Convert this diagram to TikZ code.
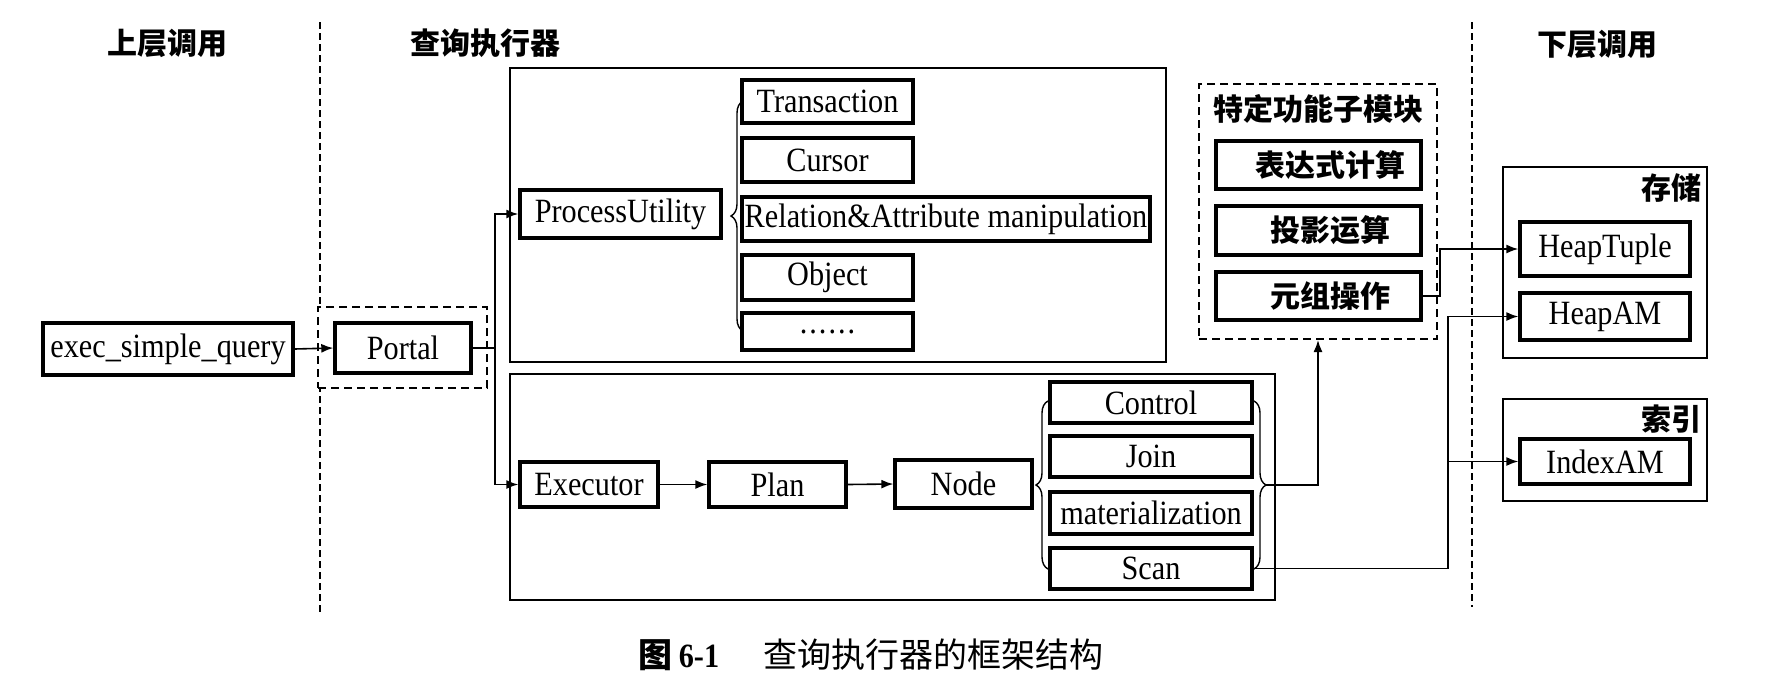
\documentclass[tikz,border=0pt]{standalone}
\usepackage{fontspec}
\setmainfont{Liberation Serif}[FakeStretch=0.89]
\newfontfamily\cjk{Noto Sans CJK SC}
\usetikzlibrary{arrows.meta,decorations.pathreplacing,calc}
\newcommand{\mybox}[7][box]{\node[#1, minimum width={(#5-#3)*0.5pt}, minimum height={(#6-#4)*0.5pt}] (#2) at ({(#3+#5)/2},{(#4+#6)/2}) {#7};}
\begin{document}
\begin{tikzpicture}[x=0.5pt,y=-0.5pt,
  box/.style={draw, line width=1.7pt, inner sep=0pt, font=\fontsize{17}{17}\selectfont},
  cnbox/.style={draw, line width=1.7pt, inner sep=0pt, font=\fontsize{15}{15}\selectfont\cjk\bfseries},
  container/.style={draw, line width=0.9pt, inner sep=0pt},
  dbox/.style={draw, line width=1pt, dash pattern=on 4pt off 2.5pt, inner sep=0pt},
  sepline/.style={line width=0.6pt, dash pattern=on 3.5pt off 2pt},
  conn/.style={line width=0.8pt},
  arr/.style={conn, -{Latex[length=6pt,width=4.5pt]}},
  brc/.style={line width=0.7pt, decorate, decoration={brace, amplitude=6pt}},
  head/.style={font=\fontsize{15}{15}\selectfont\cjk\bfseries, inner sep=0pt},
]
\useasboundingbox (0,0) rectangle (1777,681);

% headers
\node[head] (h1) at (167,43) {上层调用};
\node[head] (h2) at (485,43) {查询执行器};
\node[head] (h3) at (1597,44) {下层调用};

% separators
\coordinate (s1t) at (320,22); \coordinate (s1b) at (320,612);
\coordinate (s2t) at (1472,22); \coordinate (s2b) at (1472,607);
\draw[sepline] (s1t) -- (s1b);
\draw[sepline] (s2t) -- (s2b);

% containers
\mybox[container]{topc}{510}{68}{1166}{362}{}
\mybox[container]{botc}{510}{374}{1275}{600}{}
\mybox[dbox, fill=white]{portalgrp}{318}{307}{487}{388}{}
\mybox[dbox]{func}{1199}{84}{1437}{339}{}
\mybox[container]{store}{1503}{167}{1707}{358}{}
\mybox[container]{index}{1503}{399}{1707}{501}{}

% left
\mybox{exec}{43}{323}{293}{375}{exec\_simple\_query}
\mybox{portal}{335}{323}{471}{373}{Portal}

% ProcessUtility part
\mybox{pu}{520}{190}{721}{238}{ProcessUtility}
\mybox{trans}{742}{80}{913}{123}{Transaction}
\mybox{cursor}{742}{138}{913}{182}{Cursor}
\mybox{rel}{742}{197}{1150}{241}{Relation\&Attribute manipulation}
\mybox{obj}{742}{255}{913}{300}{Object}
\mybox{dots}{742}{313}{913}{350}{.\kern1pt.\kern1pt.\kern1pt.\kern1pt.\kern1pt.}

% Executor part
\mybox{exe}{520}{462}{658}{507}{Executor}
\mybox{plan}{709}{462}{846}{507}{Plan}
\mybox{node}{895}{460}{1032}{508}{Node}
\mybox{control}{1050}{382}{1252}{423}{Control}
\mybox{join}{1050}{436}{1252}{477}{Join}
\mybox{mat}{1050}{492}{1252}{534}{materialization}
\mybox{scan}{1050}{548}{1252}{589}{Scan}

% function submodules
\node[head] (functitle) at (1318,109) {特定功能子模块};
\mybox[cnbox]{expr}{1216}{141}{1421}{189}{\hspace{12pt}表达式计算}
\mybox[cnbox]{proj}{1216}{206}{1421}{255}{\hspace{12pt}投影运算}
\mybox[cnbox]{tuple}{1216}{272}{1421}{320}{\hspace{12pt}元组操作}

% storage / index
\node[head, anchor=east] (storetitle) at (1702,188) {存储};
\mybox{heaptuple}{1520}{222}{1690}{276}{HeapTuple}
\mybox{heapam}{1520}{293}{1690}{340}{HeapAM}
\node[head, anchor=east] (indextitle) at (1702,419) {索引};
\mybox{indexam}{1520}{439}{1690}{484}{IndexAM}

% braces
\draw[brc] (743,331) -- (743,101);
\draw[brc] (1048,569) -- (1048,401);
\draw[brc] (1254,401) -- (1254,569);

% connectors
\draw[arr] (exec.east) -- (portal.west);
\coordinate (split) at (495,348);
\draw[conn] (portal.east) -- (split);
\draw[arr] (split) |- (pu.west);
\draw[arr] (split) |- (exe.west);
\draw[arr] (exe.east) -- (plan.west);
\draw[arr] (plan.east) -- (node.west);
\coordinate (rtip) at (1266,485);
\draw[arr] (rtip) -| (func.south);
\coordinate (j1) at (1440,0);
\coordinate (j2) at (1448,0);
\draw[arr] (tuple.east) -- (tuple.east -| j1) |- (heaptuple.west);
\draw[arr] (scan.east) -- (scan.east -| j2) |- (heapam.west);
\draw[arr] (scan.east -| j2) |- (indexam.west);

% caption
\node[inner sep=0pt] (cap) at (871,655) {\fontsize{17}{17}\selectfont{\cjk\bfseries 图}\hspace{3pt}{\bfseries 6-1}\hspace{22pt}{\cjk 查询执行器的框架结构}};
\end{tikzpicture}
\end{document}
